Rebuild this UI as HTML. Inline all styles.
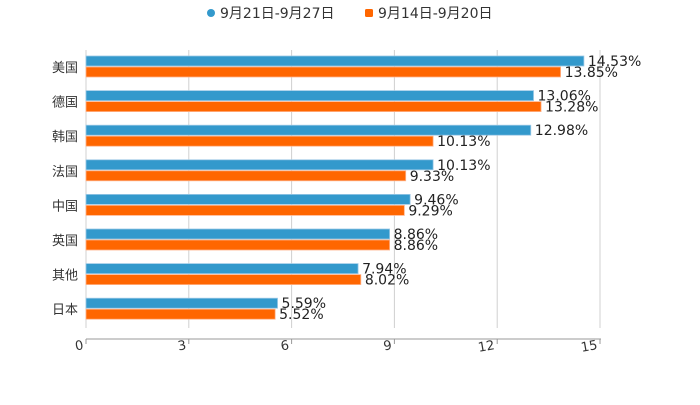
<!DOCTYPE html>
<html><head><meta charset="utf-8"><style>
body{margin:0;background:#fff}
svg text{font-family:"DejaVu Sans","Noto Sans CJK SC",sans-serif}
</style></head><body>
<svg width="700" height="400">
<g id="legend">
<g><circle cx="211" cy="13" r="4" fill="#3399cc"/><text x="220" y="18" font-size="14" fill="#333">9月21日-9月27日</text></g>
<g><rect x="365" y="9" width="8" height="8" rx="1.5" fill="#ff6600"/><text x="378" y="18" font-size="14" fill="#333">9月14日-9月20日</text></g>
</g>
<g id="grid"></g>
<g id="bars"></g>
<g id="ylab"></g>
<g id="xaxis"></g>
</svg>
<script>
const categories=["美国","德国","韩国","法国","中国","英国","其他","日本"];
const seriesA=[14.53,13.06,12.98,10.13,9.46,8.86,7.94,5.59];
const seriesB=[13.85,13.28,10.13,9.33,9.29,8.86,8.02,5.52];
const ticks=[0,3,6,9,12,15];
const NS="http://www.w3.org/2000/svg";
const x0=86,x1=600,xmax=15,top0=56,pitch=34.6;
const xs=v=>x0+(x1-x0)*v/xmax;
function mk(t,a,p){const e=document.createElementNS(NS,t);for(const k in a)e.setAttribute(k,a[k]);p.appendChild(e);return e;}
const g=document.getElementById('grid'),b=document.getElementById('bars'),yl=document.getElementById('ylab'),xa=document.getElementById('xaxis');
ticks.forEach(t=>{
 const l=mk('line',{x1:xs(t),x2:xs(t),y1:50,y2:328,stroke:'#d0d0d0'},g);
 
 
 const tk=mk('line',{x1:xs(t),x2:xs(t),y1:339,y2:344,stroke:'#999'},xa);
 
 
 const tx=mk('text',{x:xs(t)-2,y:349,'font-size':13,fill:'#333','text-anchor':'end',transform:`rotate(-10 ${xs(t)-2} 349)`},xa);
 tx.textContent=t;
 
 
});
const ax=mk('line',{x1:x0,x2:x1+1,y1:339,y2:339,stroke:'#999'},xa);


categories.forEach((c,i)=>{
 const y=top0+i*pitch;
 const ra=mk('rect',{x:x0,y:y,width:xs(seriesA[i])-x0,height:10,fill:'#3399cc',stroke:'#9cc9e6','stroke-width':0.8},b);
 
 
 const rb=mk('rect',{x:x0,y:y+11,width:xs(seriesB[i])-x0,height:10,fill:'#ff6600',stroke:'#ffb38a','stroke-width':0.8},b);
 
 
 const ta=mk('text',{x:xs(seriesA[i])+4,y:y+10,'font-size':14,fill:'#222'},b);
 ta.textContent=seriesA[i].toFixed(2)+'%';
 
 
 const tb=mk('text',{x:xs(seriesB[i])+4,y:y+21,'font-size':14,fill:'#222'},b);
 tb.textContent=seriesB[i].toFixed(2)+'%';
 
 
 const cl=mk('text',{x:78,y:y+16,'font-size':13,fill:'#333','text-anchor':'end'},yl);
 cl.textContent=c;
 
 
});
</script>
</body></html>
